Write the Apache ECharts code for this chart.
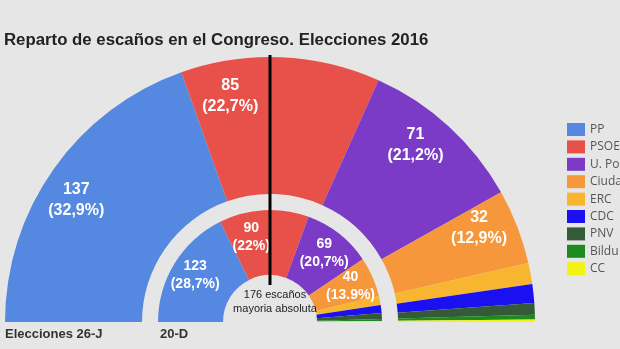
<!DOCTYPE html>
<html>
<head>
<meta charset="utf-8">
<script src="https://cdn.jsdelivr.net/npm/echarts@6/dist/echarts.min.js"></script>
<style>
  html, body { margin: 0; padding: 0; background: #e6e6e6; }
  #chart { width: 620px; height: 349px; }
</style>
</head>
<body>
<div id="chart"></div>
<script>
// escaños por partido, 26-J (anillo exterior) y 20-D (anillo interior)
const parties = ['PP', 'PSOE', 'U. Podemos', 'Ciudadanos', 'ERC', 'CDC', 'PNV', 'Bildu', 'CC']
const partyColors = ['#5588e0', '#e8504a', '#7b3bc7', '#f7973b', '#f8b530', '#1a10f0', '#355a38', '#1c8a1c', '#f2f215']
const seats26J = [137, 85, 71, 32, 9, 8, 5, 2, 1]
const seats20D = [123, 90, 69, 40, 9, 8, 6, 2, 1]
const votes26J = ['32,9%', '22,7%', '21,2%', '12,9%']
const votes20D = ['28,7%', '22%', '20,7%', '13.9%']

const FONT = '"Liberation Sans", Arial, sans-serif'
const CX = 270
const CY = 322

// desplazamiento de la etiqueta del PSOE para no pisar la línea de mayoría
const labelShift = { PSOE: { outer: -37, inner: -14 } }

function ringData(seats, votes) {
  return parties.map((name, i) => ({
    name: name,
    value: seats[i],
    pct: votes[i],
    itemStyle: { color: partyColors[i] },
    label: { show: !!votes[i] }
  }))
}

// lleva la etiqueta a un radio fijo, girándola unos grados desde el ángulo medio
function placeLabel(radius, turnDeg, ring) {
  return function (p) {
    const r = p.labelRect
    const dx = r.x + r.width / 2 - CX
    const dy = r.y + r.height / 2 - CY
    const a = Math.atan2(-dy, dx) + turnDeg * Math.PI / 180
    const shift = labelShift[parties[p.dataIndex]]
    return {
      x: CX + radius * Math.cos(a) + (shift ? shift[ring] : 0),
      y: CY - radius * Math.sin(a) + (shift ? 3 : 0),
      align: 'center',
      verticalAlign: 'middle'
    }
  }
}

const chart = echarts.init(document.getElementById('chart'))
chart.setOption({
  backgroundColor: '#e6e6e6',
  animation: false,
  title: {
    text: 'Reparto de escaños en el Congreso. Elecciones 2016',
    left: 4,
    top: 32,
    padding: 0,
    textStyle: { fontFamily: FONT, fontSize: 16.8, fontWeight: 'bold', color: '#222' }
  },
  legend: {
    orient: 'vertical',
    left: 562,
    top: 118,
    itemWidth: 18,
    itemHeight: 13,
    itemGap: 4.4,
    icon: 'rect',
    data: parties,
    selectedMode: false,
    textStyle: { fontFamily: '"Open Sans", sans-serif', fontSize: 12, color: '#555' }
  },
  series: [
    {
      name: '26-J',
      type: 'pie',
      center: [CX, CY],
      radius: [128, 265],
      startAngle: 180,
      endAngle: 0,
      silent: true,
      label: {
        position: 'inside',
        formatter: p => p.value + '\n(' + p.data.pct + ')',
        color: '#fff',
        fontFamily: FONT,
        fontSize: 16,
        fontWeight: 'bold',
        lineHeight: 21
      },
      labelLayout: placeLabel(229, 3, 'outer'),
      labelLine: { show: false },
      data: ringData(seats26J, votes26J)
    },
    {
      name: '20-D',
      type: 'pie',
      center: [CX, CY],
      radius: [47, 112],
      startAngle: 180,
      endAngle: 0,
      silent: true,
      label: {
        position: 'inside',
        formatter: p => p.value + '\n(' + p.data.pct + ')',
        color: '#fff',
        fontFamily: FONT,
        fontSize: 14,
        fontWeight: 'bold',
        lineHeight: 18
      },
      labelLayout: placeLabel(88, 0, 'inner'),
      labelLine: { show: false },
      data: ringData(seats20D, votes20D)
    }
  ],
  graphic: [
    {
      type: 'line',
      shape: { x1: CX, y1: 55, x2: CX, y2: 285 },
      style: { stroke: '#000', lineWidth: 3 },
      z: 100
    },
    {
      type: 'text',
      x: 275,
      y: 302,
      style: {
        text: '176 escaños\nmayoria absoluta',
        fontFamily: FONT,
        fontSize: 11,
        lineHeight: 14,
        fill: '#222',
        align: 'center',
        verticalAlign: 'middle'
      },
      z: 100
    },
    {
      type: 'text',
      left: 5,
      top: 328,
      style: { text: 'Elecciones 26-J', fontFamily: FONT, fontSize: 13, fontWeight: 'bold', fill: '#333' }
    },
    {
      type: 'text',
      left: 160,
      top: 328,
      style: { text: '20-D', fontFamily: FONT, fontSize: 13, fontWeight: 'bold', fill: '#333' }
    }
  ]
})
</script>
</body>
</html>
